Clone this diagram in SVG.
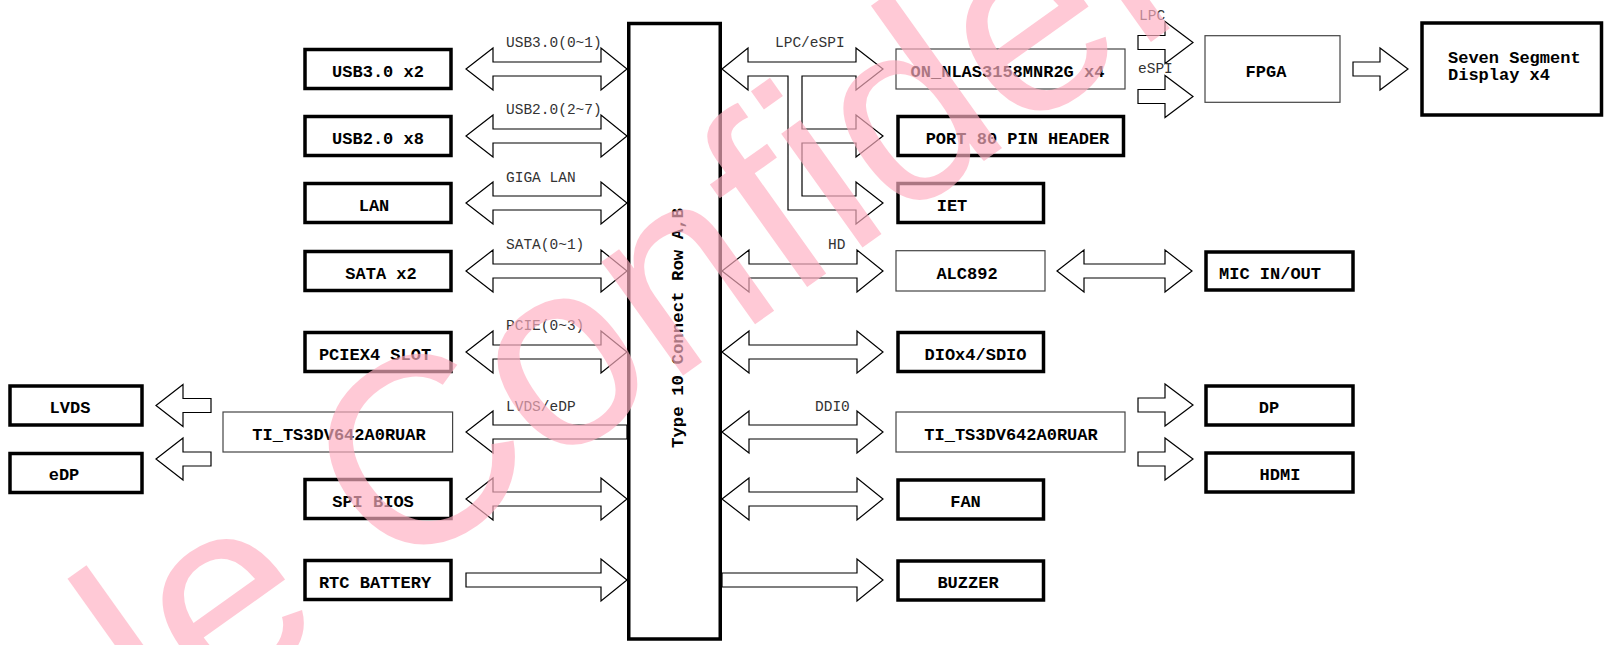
<svg xmlns="http://www.w3.org/2000/svg" width="1607" height="645" viewBox="0 0 1607 645">
<style>
.thick{fill:#fff;stroke:#000;stroke-width:3.5}
.thin{fill:#fff;stroke:#444;stroke-width:1.2}
.arr{fill:#fff;stroke:#000;stroke-width:1.2;stroke-linejoin:miter}
.bt{font-family:"Liberation Mono",monospace;font-weight:bold;font-size:17px;fill:#000}
.lb{font-family:"Liberation Mono",monospace;font-size:14.5px;fill:#333}
.wm{font-family:"Liberation Sans",Arial,sans-serif;font-size:265px;fill:#ffb0c2;opacity:0.67}
</style>
<defs>
<path id="dbl" d="M0,0 L27,-21 L27,-7 L135,-7 L135,-21 L161,0 L135,21 L135,7 L27,7 L27,21 Z"/>
<path id="rgt" d="M0,-7 L135,-7 L135,-21 L161,0 L135,21 L135,7 L0,7 Z"/>
<path id="lft" d="M161,-7 L27,-7 L27,-21 L0,0 L27,21 L27,7 L161,7 Z"/>
<path id="sl" d="M0,0 L27,-21 L27,-7 L55,-7 L55,7 L27,7 L27,21 Z"/>
<path id="sr" d="M0,-7 L27,-7 L27,-21 L55,0 L27,21 L27,7 L0,7 Z"/>
<path id="dmic" d="M0,0 L27,-21 L27,-7 L108,-7 L108,-21 L135,0 L108,21 L108,7 L27,7 L27,21 Z"/>
</defs>

<g id="connectors" class="arr">
<use href="#dbl" x="466" y="69"/>
<use href="#dbl" x="466" y="136"/>
<use href="#dbl" x="466" y="203"/>
<use href="#dbl" x="466" y="271"/>
<use href="#dbl" x="466" y="352"/>
<use href="#lft" x="466" y="432"/>
<use href="#dbl" x="466" y="499"/>
<use href="#rgt" x="466" y="580"/>
<path d="M722,69 L748,48 L748,62 L856,62 L856,48 L883,69 L856,90 L856,76 L802,76 L802,129 L856,129 L856,115 L883,136 L856,157 L856,143 L802,143 L802,196 L856,196 L856,182 L883,203 L856,224 L856,210 L788,210 L788,76 L748,76 L748,90 Z"/>
<use href="#dbl" x="722" y="271"/>
<use href="#dbl" x="722" y="352"/>
<use href="#dbl" x="722" y="432"/>
<use href="#dbl" x="722" y="499"/>
<use href="#rgt" x="722" y="580"/>
<use href="#sl" x="156" y="405.5"/>
<use href="#sl" x="156" y="459"/>
<use href="#sr" x="1138" y="42.5"/>
<use href="#sr" x="1138" y="96.5"/>
<use href="#sr" x="1353" y="69"/>
<use href="#sr" x="1138" y="405"/>
<use href="#sr" x="1138" y="459"/>
<use href="#dmic" x="1057" y="271"/>
</g>

<g id="labels">
<text class="lb" x="506" y="47">USB3.0(0~1)</text>
<text class="lb" x="506" y="114">USB2.0(2~7)</text>
<text class="lb" x="506" y="182">GIGA LAN</text>
<text class="lb" x="506" y="249">SATA(0~1)</text>
<text class="lb" x="506" y="330">PCIE(0~3)</text>
<text class="lb" x="506" y="411">LVDS/eDP</text>
<text class="lb" x="775" y="47">LPC/eSPI</text>
<text class="lb" x="828" y="249">HD</text>
<text class="lb" x="815" y="411">DDI0</text>
<text class="lb" x="1139" y="20">LPC</text>
<text class="lb" x="1138" y="73">eSPI</text>
</g>

<g id="type10">
<rect class="thick" x="628.75" y="23.5" width="91.5" height="615.5"/>
<text class="bt" style="font-size:17.4px" text-anchor="middle" transform="translate(683,328) rotate(-90)">Type 10 Connect Row A,B</text>
</g>

<g id="usb3"><rect class="thick" x="305" y="49.5" width="146" height="39"/><text class="bt" x="378" y="77" text-anchor="middle">USB3.0 x2</text></g>
<g id="usb2"><rect class="thick" x="305" y="116.5" width="146" height="39"/><text class="bt" x="378" y="144" text-anchor="middle">USB2.0 x8</text></g>
<g id="lan"><rect class="thick" x="305" y="183.5" width="146" height="39"/><text class="bt" x="374" y="211" text-anchor="middle">LAN</text></g>
<g id="sata"><rect class="thick" x="305" y="251.5" width="146" height="39"/><text class="bt" x="381" y="279" text-anchor="middle">SATA x2</text></g>
<g id="pcie"><rect class="thick" x="305" y="332.5" width="146" height="39"/><text class="bt" x="375" y="360" text-anchor="middle">PCIEX4 SLOT</text></g>
<g id="ti-left"><rect class="thin" x="223" y="412" width="229.6" height="40"/><text class="bt" x="339" y="440" text-anchor="middle">TI_TS3DV642A0RUAR</text></g>
<g id="spi"><rect class="thick" x="305" y="479.5" width="146" height="39"/><text class="bt" x="373" y="507" text-anchor="middle">SPI BIOS</text></g>
<g id="rtc"><rect class="thick" x="305" y="560.5" width="146" height="39"/><text class="bt" x="375" y="588" text-anchor="middle">RTC BATTERY</text></g>
<g id="lvds"><rect class="thick" x="10" y="386" width="132" height="39"/><text class="bt" x="70" y="413" text-anchor="middle">LVDS</text></g>
<g id="edp"><rect class="thick" x="10" y="453.5" width="132" height="39"/><text class="bt" x="64" y="480" text-anchor="middle">eDP</text></g>

<g id="nlas"><rect class="thin" x="896" y="49" width="229" height="40"/><text class="bt" x="1007.5" y="77" text-anchor="middle">ON_NLAS3158MNR2G x4</text></g>
<g id="port80"><rect class="thick" x="898" y="116.5" width="225.5" height="39"/><text class="bt" x="1017.5" y="144" text-anchor="middle">PORT 80 PIN HEADER</text></g>
<g id="iet"><rect class="thick" x="898" y="183.5" width="145.5" height="39"/><text class="bt" x="952" y="211" text-anchor="middle">IET</text></g>
<g id="alc"><rect class="thin" x="896" y="250.7" width="149" height="40.3"/><text class="bt" x="967" y="279" text-anchor="middle">ALC892</text></g>
<g id="dio"><rect class="thick" x="898" y="332.5" width="145.5" height="39"/><text class="bt" x="975.5" y="360" text-anchor="middle">DIOx4/SDIO</text></g>
<g id="ti-right"><rect class="thin" x="896" y="412" width="229" height="40"/><text class="bt" x="1011" y="440" text-anchor="middle">TI_TS3DV642A0RUAR</text></g>
<g id="fan"><rect class="thick" x="898" y="480" width="145.5" height="39"/><text class="bt" x="965.5" y="507" text-anchor="middle">FAN</text></g>
<g id="buzzer"><rect class="thick" x="898" y="561" width="145.5" height="39"/><text class="bt" x="968" y="588" text-anchor="middle">BUZZER</text></g>
<g id="fpga"><rect class="thin" x="1205" y="35.7" width="135" height="66.6"/><text class="bt" x="1266" y="77" text-anchor="middle">FPGA</text></g>
<g id="sevenseg"><rect class="thick" x="1422" y="23" width="179.5" height="92"/><text class="bt" x="1448" y="63">Seven Segment</text><text class="bt" x="1448" y="80">Display x4</text></g>
<g id="mic"><rect class="thick" x="1206" y="252" width="147" height="38"/><text class="bt" x="1219" y="279">MIC IN/OUT</text></g>
<g id="dp"><rect class="thick" x="1206" y="386" width="147" height="39"/><text class="bt" x="1269" y="413" text-anchor="middle">DP</text></g>
<g id="hdmi"><rect class="thick" x="1206" y="453" width="147" height="39"/><text class="bt" x="1280" y="480" text-anchor="middle">HDMI</text></g>

<g id="watermark"><text class="wm" transform="translate(164.5,745.5) rotate(-35.5)">le Confiden</text></g>
</svg>
